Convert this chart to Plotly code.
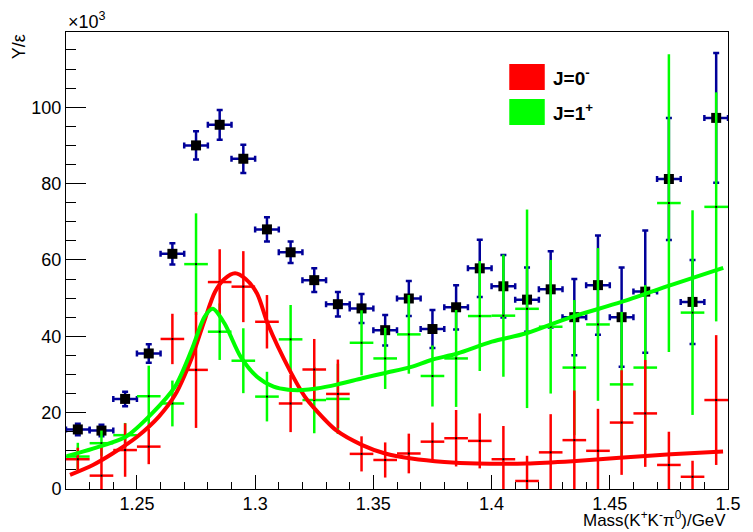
import plotly.graph_objects as go

# ---------------- data (values in units of 10^3) ----------------
bin_centers = [1.225, 1.235, 1.245, 1.255, 1.265, 1.275, 1.285, 1.295, 1.305, 1.315,
               1.325, 1.335, 1.345, 1.355, 1.365, 1.375, 1.385, 1.395, 1.405, 1.415,
               1.425, 1.435, 1.445, 1.455, 1.465, 1.475, 1.485, 1.495]
half_width = [0.005] * 28

data_y = [15.6, 15.3, 23.6, 35.5, 61.6, 90.0, 95.4, 86.5, 68.0, 62.0,
          54.7, 48.4, 47.3, 41.6, 49.9, 41.9, 47.6, 57.8, 53.1, 49.6,
          52.3, 45.0, 53.4, 45.0, 51.7, 81.2, 49.0, 97.2]
data_err = [1.5, 1.5, 1.9, 2.4, 2.8, 3.7, 3.9, 3.7, 3.2, 2.8,
            3.1, 3.2, 3.8, 4.0, 4.6, 5.0, 5.8, 7.5, 8.2, 8.4,
            10.0, 10.0, 13.0, 13.0, 16.0, 16.0, 11.0, 17.0]

j0_y = [7.8, 3.5, 10.2, 11.1, 39.3, 31.2, 54.2, 53.0, 43.8, 22.4,
        31.3, 24.9, 9.2, 7.6, 9.3, 12.4, 13.3, 12.6, 7.8, 2.1,
        9.6, 12.8, 10.0, 17.4, 19.8, 6.3, 3.2, 23.3]
j0_err = [3.0, 7.5, 7.0, 4.6, 6.6, 15.2, 8.6, 9.3, 7.0, 7.5,
          8.0, 9.0, 4.6, 4.6, 5.2, 5.0, 7.4, 7.2, 8.7, 6.6,
          10.0, 13.0, 11.0, 13.7, 14.0, 8.7, 4.2, 17.0]

j1_y = [8.5, 12.0, 14.1, 24.3, 22.4, 58.9, 41.2, 33.6, 24.2, 39.2,
        23.3, 23.6, 38.3, 34.2, 40.5, 29.6, 34.2, 45.3, 45.4, 47.2,
        42.5, 31.8, 43.1, 27.4, 31.8, 74.9, 46.2, 73.9]
j1_err = [3.6, 3.3, 3.2, 8.0, 6.0, 13.3, 7.4, 8.5, 6.5, 9.0,
          8.7, 9.2, 8.5, 8.0, 10.3, 8.0, 12.7, 14.4, 16.0, 26.0,
          17.5, 17.7, 20.0, 19.0, 21.6, 39.0, 26.8, 30.0]

# fitted curves
j0_curve_x = [1.2217, 1.2314, 1.2397, 1.2501, 1.2592, 1.2661, 1.2731, 1.2786, 1.2830,
              1.2870, 1.2915, 1.2960, 1.3008, 1.3055, 1.3147, 1.3210, 1.3245, 1.3342,
              1.3453, 1.3550, 1.3661, 1.3800, 1.3939, 1.4146, 1.4342, 1.4542, 1.4758, 1.4979]
j0_curve_y = [3.7, 6.3, 9.3, 13.7, 18.9, 24.6, 34.2, 44.2, 51.6,
              55.0, 56.5, 55.0, 51.2, 43.0, 31.0, 24.2, 21.5, 15.4,
              11.5, 9.3, 8.0, 7.1, 6.7, 6.7, 7.3, 8.2, 9.1, 9.8]

j1_curve_x = [1.2203, 1.2314, 1.2453, 1.2564, 1.2661, 1.2731, 1.2786, 1.2821, 1.2870,
              1.2939, 1.3008, 1.3078, 1.3140, 1.3200, 1.3260, 1.3349, 1.3453, 1.3550,
              1.3661, 1.3745, 1.3855, 1.4001, 1.4147, 1.4330, 1.4550, 1.4758, 1.4980]
j1_curve_y = [8.6, 10.6, 13.7, 19.8, 26.8, 36.4, 45.1, 47.2, 43.4,
              34.6, 29.4, 26.8, 26.0, 25.9, 26.3, 27.4, 29.0, 30.4,
              32.0, 33.8, 35.5, 38.6, 40.8, 44.9, 49.0, 53.4, 57.9]

x_ticks = [1.25, 1.3, 1.35, 1.4, 1.45, 1.5]
y_ticks = [0, 20, 40, 60, 80, 100]

RED = "#ff0000"
GREEN = "#00ff00"
BLUE = "#000099"
FONT = "Liberation Sans, Arial, Helvetica, sans-serif"

fig = go.Figure()

# measured data
fig.add_trace(go.Scatter(
    x=bin_centers, y=data_y, mode="markers",
    marker=dict(symbol="square", size=10, color="black"),
    error_y=dict(type="data", array=data_err, color=BLUE, thickness=2.5, width=3),
    error_x=dict(type="data", array=half_width, color=BLUE, thickness=2.5, width=3),
    showlegend=False, hoverinfo="skip"))

# J=1+ points
fig.add_trace(go.Scatter(
    x=bin_centers, y=j1_y, mode="markers",
    marker=dict(symbol="square", size=2, color="black"),
    error_y=dict(type="data", array=j1_err, color=GREEN, thickness=2.5, width=0),
    error_x=dict(type="data", array=half_width, color=GREEN, thickness=2.5, width=0),
    showlegend=False, hoverinfo="skip"))

# J=0- points
fig.add_trace(go.Scatter(
    x=bin_centers, y=j0_y, mode="markers",
    marker=dict(symbol="square", size=2, color="black"),
    error_y=dict(type="data", array=j0_err, color=RED, thickness=2.5, width=0),
    error_x=dict(type="data", array=half_width, color=RED, thickness=2.5, width=0),
    showlegend=False, hoverinfo="skip"))

# curves
fig.add_trace(go.Scatter(
    x=j0_curve_x, y=j0_curve_y, mode="lines",
    line=dict(color=RED, width=4, shape="spline", smoothing=0.8),
    showlegend=False, hoverinfo="skip"))
fig.add_trace(go.Scatter(
    x=j1_curve_x, y=j1_curve_y, mode="lines",
    line=dict(color=GREEN, width=4, shape="spline", smoothing=0.8),
    showlegend=False, hoverinfo="skip"))

# the page body has an 8px margin: size the figure so the frame lands where it should
fig.update_layout(
    width=745, height=524,
    margin=dict(l=58, r=15, t=24, b=43),
    paper_bgcolor="white", plot_bgcolor="white",
    font=dict(family=FONT, size=18, color="black"),
    showlegend=False,
    xaxis=dict(
        range=[1.22, 1.5], tickvals=x_ticks, ticktext=[str(v) for v in x_ticks],
        ticks="inside", ticklen=14, tickwidth=1, tickcolor="black",
        showline=True, linecolor="black", linewidth=1, mirror=True,
        showgrid=False, zeroline=False, ticklabelstandoff=-2,
        tickfont=dict(size=18, family=FONT),
        minor=dict(dtick=0.01, tick0=1.25, ticks="inside", ticklen=7,
                   tickcolor="black", tickwidth=1, showgrid=False),
    ),
    yaxis=dict(
        range=[0, 119.7], tickvals=y_ticks, ticktext=[str(v) for v in y_ticks],
        ticks="inside", ticklen=20, tickwidth=1, tickcolor="black",
        showline=True, linecolor="black", linewidth=1, mirror=True,
        showgrid=False, zeroline=False,
        tickfont=dict(size=18, family=FONT),
        minor=dict(dtick=5, tick0=0, ticks="inside", ticklen=10,
                   tickcolor="black", tickwidth=1, showgrid=False),
    ),
)

# legend drawn as boxes + text
fig.add_shape(type="rect", xref="paper", yref="paper",
              x0=0.6696, x1=0.7232, y0=0.873, y1=0.930,
              fillcolor=RED, line=dict(width=0))
fig.add_shape(type="rect", xref="paper", yref="paper",
              x0=0.6696, x1=0.7232, y0=0.7965, y1=0.8534,
              fillcolor=GREEN, line=dict(width=0))
fig.add_annotation(xref="paper", yref="paper", x=0.732, y=0.9015,
                   xanchor="left", yanchor="middle", showarrow=False,
                   text="<b>J=0<sup>-</sup></b>", font=dict(size=19, family=FONT))
fig.add_annotation(xref="paper", yref="paper", x=0.732, y=0.825,
                   xanchor="left", yanchor="middle", showarrow=False,
                   text="<b>J=1<sup>+</sup></b>", font=dict(size=19, family=FONT))

# axis titles and exponent
fig.add_annotation(xref="paper", yref="paper", x=1.0, y=-0.0665,
                   xanchor="right", yanchor="middle", showarrow=False,
                   text="Mass(K<sup>+</sup>K<sup>-</sup>π<sup>0</sup>)/GeV",
                   font=dict(size=17, family=FONT))
fig.add_annotation(xref="paper", yref="paper", x=-0.0714, y=1.0,
                   xanchor="center", yanchor="top", showarrow=False, textangle=-90,
                   text="Y/ε", font=dict(size=18, family=FONT))
fig.add_annotation(xref="paper", yref="paper", x=0.0, y=1.0,
                   xanchor="left", yanchor="bottom", showarrow=False, yshift=-2,
                   text="×10<sup>3</sup>", font=dict(size=18, family=FONT))

fig.write_html("out.html")
